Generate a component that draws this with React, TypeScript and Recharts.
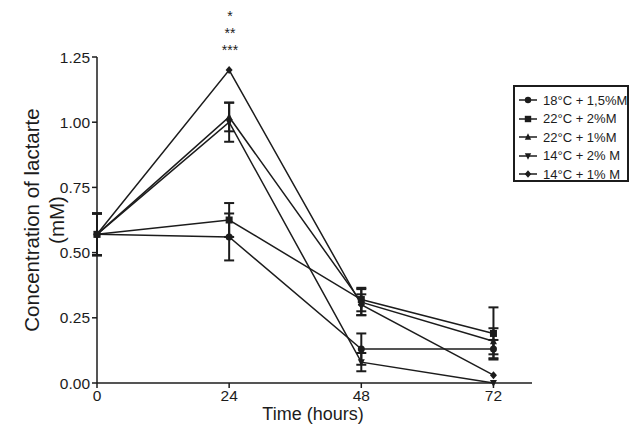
import { ErrorBar, Line, LineChart, XAxis, YAxis } from "recharts";

const hours = [0, 24, 48, 72];
const yTicks = [0, 0.25, 0.5, 0.75, 1.0, 1.25];
const stars = ["*", "**", "***"];

const seriesNames = ["18°C + 1,5%M", "22°C + 2%M", "22°C + 1%M", "14°C + 2% M", "14°C + 1% M"];
const seriesShapes = ["circle", "square", "triangle", "down", "diamond"];

const c18m15 = [0.57, 0.56, 0.13, 0.13];
const c18m15Err = [0.08, 0.09, 0.06, 0.035];
const c22m2 = [0.57, 0.625, 0.32, 0.19];
const c22m2Err = [0.08, 0.065, 0.045, 0.1];
const c22m1 = [0.57, 1.02, 0.31, 0.16];
const c22m1Err = [0.08, 0.055, 0.05, 0.05];
const c14m2 = [0.57, 1.0, 0.08, 0.0];
const c14m2Err = [0.08, 0.075, 0.035, 0];
const c14m1 = [0.57, 1.2, 0.3, 0.03];
const c14m1Err = [0, 0, 0.04, 0];

const values = [c18m15, c22m2, c22m1, c14m2, c14m1];
const errors = [c18m15Err, c22m2Err, c22m1Err, c14m2Err, c14m1Err];

const data = hours.map((h, i) => {
  const row: Record<string, number> = { hour: h };
  values.forEach((v, k) => {
    row[`s${k}`] = v[i];
    row[`e${k}`] = errors[k][i];
  });
  return row;
});

const INK = "#1c1c1c";
const FONT = "'Liberation Sans', Arial, Helvetica, sans-serif";

function Marker({ shape, cx, cy, r = 3.5 }: { shape: string; cx: number; cy: number; r?: number }) {
  if (shape === "circle") return <circle cx={cx} cy={cy} r={r} fill={INK} />;
  if (shape === "square")
    return <rect x={cx - r} y={cy - r} width={r * 2} height={r * 2} fill={INK} />;
  if (shape === "triangle")
    return <polygon points={`${cx},${cy - r - 0.5} ${cx + r},${cy + r - 0.5} ${cx - r},${cy + r - 0.5}`} fill={INK} />;
  if (shape === "down")
    return <polygon points={`${cx},${cy + r + 0.5} ${cx + r},${cy - r + 0.5} ${cx - r},${cy - r + 0.5}`} fill={INK} />;
  return <polygon points={`${cx},${cy - r - 0.5} ${cx + r},${cy} ${cx},${cy + r + 0.5} ${cx - r},${cy}`} fill={INK} />;
}

export default function App() {
  return (
    <div style={{ position: "absolute", left: 0, top: 0, width: 644, height: 441, fontFamily: FONT, background: "#fff" }}>
      <LineChart width={644} height={441} data={data} margin={{ top: 57, right: 112, left: 0, bottom: 28 }}>
        <XAxis
          dataKey="hour"
          type="number"
          domain={[0, 79]}
          ticks={hours}
          tickSize={5}
          height={30}
          stroke={INK}
          strokeWidth={1.5}
          tick={{ fill: INK, fontSize: 15.5, fontFamily: FONT }}
        />
        <YAxis
          type="number"
          domain={[0, 1.25]}
          ticks={yTicks}
          width={97}
          tickSize={5}
          stroke={INK}
          strokeWidth={1.5}
          tickFormatter={(v: number) => v.toFixed(2)}
          tick={{ fill: INK, fontSize: 15.5, fontFamily: FONT }}
        />
        {seriesNames.map((name, k) => (
          <Line
            key={name}
            name={name}
            dataKey={`s${k}`}
            type="linear"
            stroke={INK}
            strokeWidth={1.5}
            isAnimationActive={false}
            dot={(p: any) => <Marker key={`${k}-${p.index}`} shape={seriesShapes[k]} cx={p.cx} cy={p.cy} />}
            activeDot={false}
          >
            <ErrorBar dataKey={`e${k}`} width={5} stroke={INK} strokeWidth={2} isAnimationActive={false} />
          </Line>
        ))}
      </LineChart>

      {stars.map((s, i) => (
        <div
          key={s}
          style={{
            position: "absolute",
            left: 200,
            top: 10 + i * 17,
            width: 60,
            height: 12,
            textAlign: "center",
            fontSize: 14,
            lineHeight: "12px",
            color: INK,
          }}
        >
          {s}
        </div>
      ))}

      <div
        style={{
          position: "absolute",
          left: 44 - 150,
          top: 220 - 25,
          width: 300,
          textAlign: "center",
          fontSize: 20.5,
          lineHeight: "25px",
          color: INK,
          transform: "rotate(-90deg)",
          transformOrigin: "150px 25px",
        }}
      >
        <div>Concentration of lactarte</div>
        <div>(mM)</div>
      </div>

      <div
        style={{
          position: "absolute",
          left: 213,
          top: 405,
          width: 200,
          textAlign: "center",
          fontSize: 18,
          lineHeight: "18px",
          color: INK,
        }}
      >
        Time (hours)
      </div>

      <div
        style={{
          position: "absolute",
          left: 513,
          top: 85,
          width: 116,
          height: 97,
          border: `2px solid ${INK}`,
          padding: "4px 0 0 3px",
          boxSizing: "border-box",
        }}
      >
        {seriesNames.map((name, k) => (
          <div key={name} style={{ display: "flex", alignItems: "center", height: 18.5 }}>
            <svg width={20} height={10} style={{ marginRight: 5, flexShrink: 0 }}>
              <line x1={1} y1={5} x2={19} y2={5} stroke={INK} strokeWidth={1.5} />
              <Marker shape={seriesShapes[k]} cx={10} cy={5} r={3.2} />
            </svg>
            <span style={{ fontSize: 13, color: INK, whiteSpace: "nowrap" }}>{name}</span>
          </div>
        ))}
      </div>
    </div>
  );
}
